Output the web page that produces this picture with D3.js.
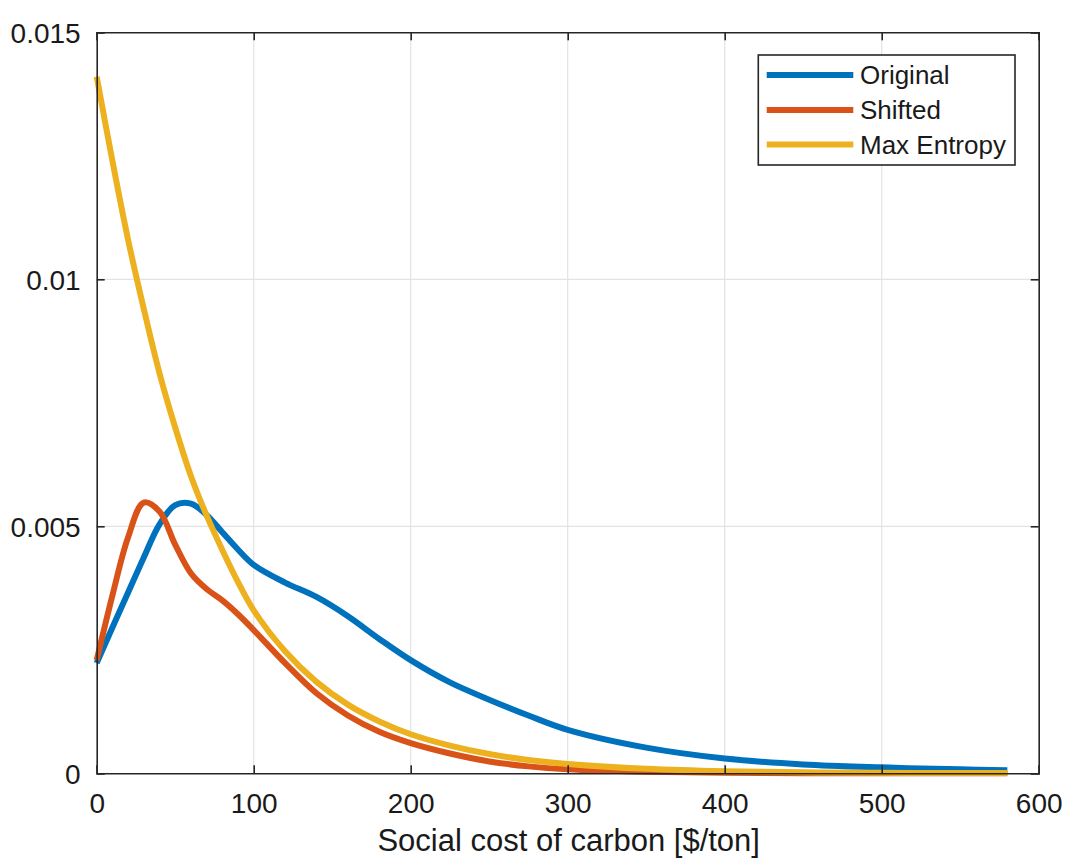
<!DOCTYPE html>
<html>
<head>
<meta charset="utf-8">
<script src="https://cdn.jsdelivr.net/npm/d3@7"></script>
<style>
  html, body { margin: 0; padding: 0; background: #ffffff; }
  svg { display: block; font-family: "Liberation Sans", Arial, Helvetica, sans-serif; }
</style>
</head>
<body>
<svg id="chart" width="1066" height="862"></svg>
<script>
// Social cost of carbon [$/ton] sample points
const scc = [0, 10, 20, 30, 40, 50, 60, 70, 80, 90, 100, 120, 140, 160, 180, 200, 225, 250, 275, 300, 350, 400, 450, 500, 550, 580];

// Probability density for each distribution at the points above
const original = [0.00223, 0.00295, 0.00366, 0.00437, 0.00504, 0.00543, 0.00546, 0.00523, 0.00488, 0.00453, 0.00422, 0.00386, 0.00357, 0.00318, 0.00272, 0.00229, 0.00184, 0.00149, 0.00117, 0.00088, 0.00052, 0.00030, 0.00018, 0.00012, 0.00008, 0.00006];
const shifted  = [0.00229, 0.00360, 0.00478, 0.00548, 0.00530, 0.00463, 0.00405, 0.00373, 0.00350, 0.00322, 0.00290, 0.00223, 0.00162, 0.00117, 0.00084, 0.00061, 0.00040, 0.00024, 0.00014, 0.00008, 0.00003, 0.00001, 0.00000, 0.00000, 0.00000, 0.00000];
const maxEntropy = [0.01410, 0.01240, 0.01080, 0.00940, 0.00810, 0.00700, 0.00602, 0.00522, 0.00452, 0.00387, 0.00330, 0.00247, 0.00185, 0.00139, 0.00105, 0.00079, 0.00056, 0.00039, 0.00027, 0.00019, 0.00009, 0.00004, 0.00002, 0.00001, 0.000005, 0.000004];

const seriesNames = ["Original", "Shifted", "Max Entropy"];
const seriesColors = ["#0072BD", "#D95319", "#EDB120"];

const xTicks = [0, 100, 200, 300, 400, 500, 600];
const yTicks = [0, 0.005, 0.01, 0.015];
const yTickLabels = ["0", "0.005", "0.01", "0.015"];
const xLabel = "Social cost of carbon [$/ton]";

const svg = d3.select("#chart");
const plot = { left: 96.7, right: 1038.7, top: 32.3, bottom: 773.3 };

const x = d3.scaleLinear().domain([0, 600]).range([plot.left, plot.right]);
const y = d3.scaleLinear().domain([0, 0.015]).range([plot.bottom, plot.top]);

const axisColor = "#262626";
const gridColor = "#e3e3e3";

// grid
const grid = svg.append("g");
grid.selectAll("line.gx").data(xTicks.slice(1, -1)).join("line")
  .attr("x1", d => x(d)).attr("x2", d => x(d))
  .attr("y1", plot.top).attr("y2", plot.bottom)
  .attr("stroke", gridColor).attr("stroke-width", 1.2);
grid.selectAll("line.gy").data(yTicks.slice(1, -1)).join("line")
  .attr("x1", plot.left).attr("x2", plot.right)
  .attr("y1", d => y(d)).attr("y2", d => y(d))
  .attr("stroke", gridColor).attr("stroke-width", 1.2);

// curves
const lineGen = d3.line()
  .x((d, i) => x(scc[i]))
  .y(d => y(d))
  .curve(d3.curveCatmullRom.alpha(0.5));

[original, shifted, maxEntropy].forEach((vals, k) => {
  svg.append("path")
    .datum(vals)
    .attr("d", lineGen)
    .attr("fill", "none")
    .attr("stroke", seriesColors[k])
    .attr("stroke-width", 6)
    .attr("stroke-linejoin", "round");
});

// axes: bottom and left with labels, top and right with inward ticks only
const tickLen = 8;
const xAxis = d3.axisBottom(x).tickValues(xTicks).tickSize(-tickLen).tickPadding(20).tickFormat(d3.format("d"));
const yAxis = d3.axisLeft(y).tickValues(yTicks).tickSize(-tickLen).tickPadding(16).tickFormat((d, i) => yTickLabels[i]);
const xTop = d3.axisTop(x).tickValues(xTicks).tickSize(-tickLen).tickFormat("");
const yRight = d3.axisRight(y).tickValues(yTicks).tickSize(-tickLen).tickFormat("");

function styleAxis(g) {
  g.select(".domain").attr("stroke", axisColor).attr("stroke-width", 1.6);
  g.selectAll(".tick line").attr("stroke", axisColor).attr("stroke-width", 1.6);
  g.selectAll(".tick text").attr("fill", "#1a1a1a").attr("font-size", 28)
    .attr("font-family", "'Liberation Sans', Arial, Helvetica, sans-serif");
}

svg.append("g").attr("transform", `translate(0,${plot.bottom})`).call(xAxis).call(styleAxis)
  .call(g => g.selectAll(".tick text").attr("dy", "0.71em"));
svg.append("g").attr("transform", `translate(${plot.left},0)`).call(yAxis).call(styleAxis)
  .call(g => g.selectAll(".tick text").attr("dy", "0.36em"));
svg.append("g").attr("transform", `translate(0,${plot.top})`).call(xTop).call(styleAxis);
svg.append("g").attr("transform", `translate(${plot.right},0)`).call(yRight).call(styleAxis);

// x axis title
svg.append("text")
  .attr("x", (plot.left + plot.right) / 2 + 1)
  .attr("y", 851)
  .attr("text-anchor", "middle")
  .attr("font-size", 31)
  .attr("fill", "#1a1a1a")
  .text(xLabel);

// legend
const legend = svg.append("g");
legend.append("rect")
  .attr("x", 758.3).attr("y", 55)
  .attr("width", 256.7).attr("height", 110)
  .attr("fill", "#ffffff").attr("stroke", axisColor).attr("stroke-width", 1.6);
const rowY = [75, 110, 144.5];
seriesNames.forEach((name, k) => {
  legend.append("line")
    .attr("x1", 766.7).attr("x2", 853.3)
    .attr("y1", rowY[k]).attr("y2", rowY[k])
    .attr("stroke", seriesColors[k]).attr("stroke-width", 6);
  legend.append("text")
    .attr("x", 860).attr("y", rowY[k])
    .attr("dy", "0.36em")
    .attr("font-size", 26)
    .attr("fill", "#1a1a1a")
    .text(name);
});
</script>
</body>
</html>
